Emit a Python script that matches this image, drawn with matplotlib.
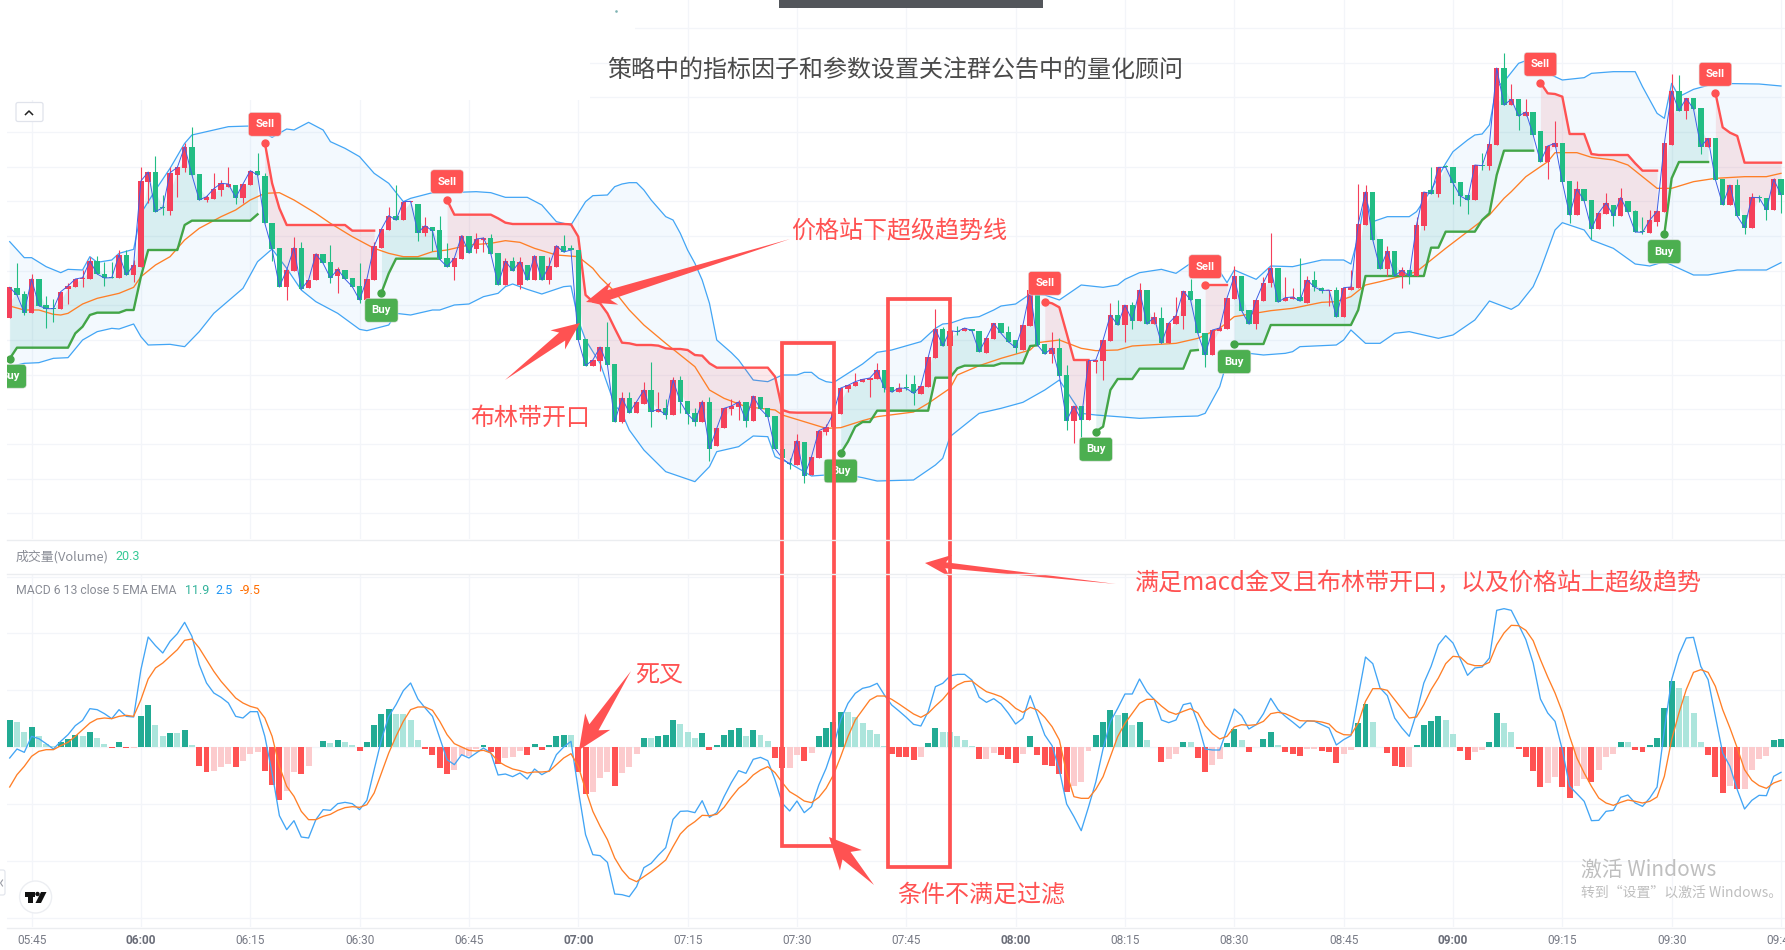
import numpy as np
import matplotlib
matplotlib.use("Agg")
import matplotlib.pyplot as plt
from matplotlib.patches import Polygon, Rectangle, FancyBboxPatch, Circle

cjk = ['Noto Sans CJK SC', 'DejaVu Sans']

# one minute bars, first one is 05:42
opens = [747,836,818,762,863,784,776,774,834,840,
         864,863,917,878,868,866,935,875,900,1154,
         1184,1079,1068,1175,1197,1260,1178,1100,1103,1130,
         1140,1145,1107,1145,1188,1173,1030,956,840,888,
         956,836,860,938,914,873,890,865,842,800,
         860,957,1010,1053,1040,1094,1088,1002,1019,1010,
         926,900,923,992,953,980,985,941,844,917,
         845,905,861,932,860,900,963,955,950,683,
         602,617,659,608,435,505,462,488,530,464,
         475,455,560,497,460,435,493,362,415,472,
         480,494,438,509,475,452,354,309,306,374,
         274,327,405,420,459,533,542,555,560,563,
         590,538,524,537,547,518,540,627,712,662,
         707,706,714,707,642,684,730,704,679,651,
         722,832,667,638,655,575,438,482,440,615,
         617,678,755,725,785,738,830,728,745,670,
         728,753,827,803,700,635,707,714,804,872,
         770,728,797,850,896,797,804,809,792,859,
         837,826,830,750,831,835,1025,1124,982,894,
         947,872,889,872,1022,1131,1118,1200,1198,1153,
         1114,1100,1205,1202,1264,1496,1385,1402,1352,1363,
         1306,1215,1260,1270,1156,1055,1133,1099,1013,1059,
         1084,1052,1096,1066,1005,1002,1035,1065,1265,1427,
         1368,1405,1375,1260,1285,1162,1086,1145,1054,1017,
         1110,1106,1070,1162]
closes = [838,815,762,863,783,774,774,825,842,863,
          867,917,878,866,867,936,875,905,1157,1184,
          1065,1077,1182,1198,1260,1175,1100,1110,1134,1150,
          1148,1107,1148,1188,1175,1030,952,840,890,957,
          832,860,938,910,866,892,863,840,800,863,
          962,1013,1053,1040,1095,1096,1002,1023,1007,922,
          900,926,993,941,983,986,939,846,917,888,
          915,860,933,860,902,963,944,950,680,603,
          620,659,606,435,506,462,495,530,465,472,
          455,560,495,458,435,495,354,415,475,482,
          494,438,512,473,450,354,325,307,378,272,
          330,408,418,460,536,544,555,562,566,590,
          535,524,536,535,520,542,628,713,662,708,
          705,716,708,645,686,730,700,675,657,725,
          830,665,638,656,573,438,482,440,618,620,
          680,755,725,785,738,830,728,748,670,730,
          753,827,800,700,635,710,716,806,872,768,
          728,800,852,896,794,807,809,797,860,839,
          828,830,750,837,839,1028,1124,980,894,947,
          872,889,872,1025,1124,1119,1198,1198,1151,1112,
          1100,1205,1203,1268,1496,1385,1402,1352,1364,1295,
          1215,1262,1270,1154,1055,1133,1097,1013,1062,1091,
          1052,1107,1064,1004,1003,1040,1066,1270,1427,1368,
          1405,1373,1260,1285,1161,1086,1145,1052,1017,1108,
          1107,1070,1162,1116]
highs = [838,911,827,877,863,812,802,825,850,863,
         890,930,932,915,915,950,950,920,1198,1184,
         1232,1115,1198,1198,1270,1320,1178,1115,1180,1160,
         1198,1145,1148,1188,1240,1180,1030,956,890,988,
         973,860,942,938,965,900,890,865,912,863,
         975,1013,1080,1145,1095,1096,1088,1050,1019,1052,
         970,926,995,992,1000,990,998,941,925,930,
         930,905,933,932,930,963,995,965,950,683,
         620,659,735,608,525,525,495,555,613,525,
         502,570,572,497,475,500,510,415,475,502,
         500,494,512,509,475,452,365,325,398,374,
         330,408,428,460,536,544,582,562,566,610,
         590,538,550,578,575,542,628,773,720,708,
         722,716,714,707,686,730,730,723,679,725,
         830,832,667,704,685,605,482,482,618,620,
         680,790,800,785,795,852,830,765,778,730,
         808,827,863,803,700,710,730,806,902,872,
         770,800,870,1002,896,868,835,925,872,887,
         840,830,840,837,890,1148,1144,1124,982,962,
         947,898,889,1050,1124,1200,1200,1206,1198,1153,
         1114,1205,1242,1275,1496,1540,1448,1402,1402,1363,
         1306,1262,1337,1270,1156,1156,1133,1099,1062,1120,
         1084,1135,1096,1070,1048,1070,1070,1270,1478,1475,
         1405,1405,1375,1285,1285,1162,1145,1162,1054,1120,
         1115,1106,1165,1162]
lows = [747,815,756,762,783,717,735,774,788,840,
        838,863,878,843,865,866,875,855,900,1090,
        1065,1055,1055,1110,1185,1175,1100,1095,1103,1112,
        1140,1088,1092,1145,1175,1030,917,840,800,888,
        832,836,860,910,852,820,863,840,790,800,
        860,957,1010,1040,1040,1094,978,992,947,922,
        900,860,923,941,942,945,939,846,844,888,
        832,860,861,860,848,900,944,950,680,603,
        602,588,606,435,430,462,462,488,418,464,
        442,455,460,428,422,435,318,362,415,455,
        440,418,438,473,450,354,310,294,306,252,
        274,327,395,420,459,525,542,555,510,563,
        525,524,524,530,485,518,540,627,662,662,
        695,706,708,645,642,684,700,675,640,651,
        722,665,638,612,573,410,372,380,440,582,
        560,678,725,675,712,738,728,728,670,670,
        728,714,800,700,600,635,707,714,804,768,
        728,714,797,840,794,797,804,797,792,828,
        820,782,750,750,831,835,1025,980,894,872,
        872,837,848,872,1010,1119,1110,1198,1088,1082,
        1058,1100,1190,1190,1264,1385,1385,1310,1352,1295,
        1215,1163,1260,1154,1032,1055,1097,984,1013,1059,
        1022,1052,1064,1004,998,1002,1022,1065,1265,1368,
        1344,1373,1238,1260,1161,1086,1086,1052,998,1017,
        1095,1040,1070,1062]

supertrend = [624,657,657,657,657,657,657,657,657,700,
              720,755,762,762,762,762,770,770,870,950,
              950,950,950,950,1025,1038,1038,1038,1038,1038,
              1038,1038,1038,1038,1057,1272,1150,1075,1025,1025,
              1025,1025,1025,1025,1025,1025,1025,1008,1008,1008,
              1008,822,880,924,924,924,924,924,924,924,
              1100,1056,1056,1056,1056,1056,1056,1045,1032,1028,
              1028,1028,1028,1028,1028,1028,1028,1027,990,815,
              795,790,760,715,672,670,665,665,665,663,
              655,653,653,650,635,633,610,597,597,597,
              597,597,597,597,597,570,470,463,462,462,
              462,462,462,462,340,375,420,434,434,468,
              468,468,468,468,468,468,468,567,567,567,
              595,603,603,603,603,603,610,610,610,610,
              662,664,795,790,778,700,620,620,620,405,
              420,530,563,563,563,594,594,594,594,594,
              594,594,648,650,845,845,845,845,668,668,
              668,668,668,725,725,725,725,725,725,725,
              725,725,725,725,725,770,872,872,872,872,
              872,872,872,872,872,957,957,1005,1005,1005,
              1005,1005,1040,1060,1175,1248,1248,1248,1248,1248,
              1452,1420,1418,1410,1298,1298,1298,1238,1235,1235,
              1235,1235,1235,1210,1188,1188,1188,998,1165,1214,
              1214,1214,1214,1214,1422,1318,1302,1292,1212,1212,
              1212,1212,1212,1212]
buy_bars = [0, 51, 114, 149, 168, 227]
sell_bars = [35, 60, 142, 164, 210, 234]

upper_bars = [0,2,3,5,7,8,10,11,12,14,15,17,18,19,20,22,24,25,28,30,33,35,36,38,39,41,43,44,46,48,50,52,54,55,58,60,64,66,68,71,73,75,77,79,80,82,83,
              84,85,86,87,88,90,91,92,93,94,95,96,97,99,100,101,102,104,105,106,108,109,110,111,112,113,115,117,119,121,125,126,127,128,129,131,133,135,136,138,140,142,144,147,150,152,153,155,158,160,161,
              162,163,165,167,168,171,173,176,180,183,184,185,186,187,189,192,193,195,197,198,200,201,202,203,204,205,207,208,210,213,216,217,220,223,224,226,227,228,229,231,234,240,243]
upper_vals = [975,927,927,900,882,892,890,930,913,920,940,952,1060,1095,1130,1195,1270,1295,1310,1320,1322,1300,1288,1313,1310,1333,1310,1275,1255,1230,1180,1150,1095,1105,1122,1122,1125,1122,1108,1108,1085,1035,1025,1095,1113,1115,1140,
              1148,1152,1152,1130,1100,1050,1040,1000,950,910,860,790,680,642,620,590,560,555,565,575,575,583,583,565,555,552,580,608,643,650,675,695,715,728,730,745,750,770,782,788,818,815,800,845,838,845,862,882,892,880,895,
              910,920,920,852,890,862,902,900,920,920,908,990,1110,1035,1050,1050,1065,1130,1210,1245,1280,1295,1298,1325,1440,1455,1510,1518,1490,1460,1467,1480,1485,1485,1440,1360,1345,1450,1410,1432,1450,1448,1442]

lower_bars = [0,2,4,6,8,10,12,14,15,17,18,19,22,24,26,28,32,34,36,38,40,42,45,48,49,52,53,55,58,59,61,63,65,67,68,69,71,73,76,77,78,79,81,83,
              84,85,87,90,92,94,96,97,100,102,104,105,107,110,112,115,117,119,124,127,128,129,133,136,139,142,144,147,149,155,160,163,
              164,166,167,168,172,175,176,177,182,183,184,186,188,190,192,196,198,201,203,206,207,209,210,212,213,216,217,220,223,225,227,231,233,237,241,243]
lower_vals = [600,610,612,625,627,680,705,715,713,728,690,665,667,660,705,760,835,915,953,895,830,795,760,712,708,725,760,755,770,770,785,788,810,820,840,848,832,818,840,842,740,680,610,485,
              460,410,350,285,270,255,300,345,360,392,390,330,310,272,275,275,267,257,260,305,325,390,460,475,493,530,560,460,455,445,450,452,
              460,540,615,645,635,640,645,660,665,680,710,670,670,700,705,685,695,740,797,772,785,840,890,1010,1032,1010,980,955,908,902,915,875,875,890,890,912]

mid_bars = [0,2,4,6,7,8,10,12,15,17,18,20,22,24,26,29,31,33,35,37,39,42,44,47,50,52,54,56,58,60,63,66,68,70,72,75,78,80,81,83,85,87,90,94,96,98,101,105,106,109,112,114,117,119,124,126,129,130,133,136,140,141,144,147,149,152,154,160,163,166,168,173,176,180,182,184,186,188,191,193,197,200,203,205,206,208,211,212,215,217,220,222,224,226,228,231,234,238,241,243]
mid_vals = [782,770,770,757,755,760,788,805,820,838,870,905,930,980,1015,1050,1070,1100,1120,1122,1100,1060,1030,990,955,940,930,930,945,950,965,970,978,973,955,935,930,895,868,825,770,725,670,600,530,505,480,470,455,435,415,417,438,450,464,490,535,575,603,625,650,672,680,655,648,650,662,670,685,715,750,768,775,793,795,810,845,855,872,885,955,1005,1055,1105,1125,1170,1215,1242,1242,1228,1220,1205,1170,1135,1135,1155,1165,1170,1170,1180]

hist = [82,76,44,61,32,10,2,16,25,35,
        32,46,28,10,-4,16,-4,-4,94,127,
        67,32,43,43,52,7,-56,-74,-71,-59,
        -50,-59,-43,-20,-14,-71,-113,-158,-133,-74,
        -80,-56,1,19,13,22,16,7,-11,16,
        67,100,115,100,100,82,22,-5,-23,-62,
        -80,-68,-28,-26,-5,7,-14,-50,-32,-29,
        -11,-23,10,-8,7,34,37,37,-76,-140,
        -134,-92,-74,-116,-77,-59,-21,27,27,33,
        36,81,69,45,27,42,-9,6,36,51,
        57,33,51,36,18,-33,-63,-63,-24,-42,
        -18,33,57,75,105,105,90,72,51,39,
        3,-21,-30,-31,-39,-30,12,57,45,45,
        33,21,3,-36,-36,-18,-24,-36,-48,-21,
        33,-24,-54,-57,-81,-135,-117,-105,-12,36,
        75,111,96,102,66,75,21,0,-45,-36,
        -21,16,16,-32,-74,-53,-35,13,55,22,
        -14,1,25,46,7,-14,-20,-26,-5,-5,
        -11,-14,-47,-20,-8,73,130,76,1,-17,
        -56,-59,-59,7,67,79,94,82,40,-11,
        -38,-14,-8,16,103,73,46,-5,-29,-71,
        -119,-107,-89,-119,-152,-116,-95,-104,-68,-29,
        -20,16,16,-8,-14,7,28,118,199,178,
        154,103,16,-23,-89,-137,-116,-125,-125,-68,
        -35,-26,22,25]
macd = [-33,-6,-16,32,25,10,-6,17,37,64,
        80,115,112,100,85,112,92,90,232,330,
        304,282,317,340,374,332,247,192,162,149,
        132,92,87,106,106,32,-78,-206,-248,-221,
        -270,-273,-218,-188,-190,-170,-166,-170,-188,-160,
        -68,22,92,127,169,192,144,117,92,27,
        -38,-53,-23,-33,-18,-3,-18,-84,-81,-89,
        -78,-96,-66,-83,-71,-23,0,17,-128,-263,
        -323,-326,-346,-441,-443,-449,-419,-362,-349,-324,
        -302,-217,-193,-192,-197,-161,-211,-197,-149,-107,
        -71,-79,-37,-31,-41,-99,-169,-192,-162,-197,
        -179,-114,-64,1,81,131,161,176,181,191,
        156,126,108,89,68,63,106,181,191,213,
        218,218,201,149,134,145,129,101,69,86,
        154,96,36,4,-69,-171,-209,-251,-180,-105,
        -5,76,116,159,159,204,166,143,81,73,
        81,127,132,72,-6,-9,-9,52,114,94,
        54,67,100,146,112,92,75,57,79,77,
        67,57,6,22,34,152,270,250,177,154,
        87,57,32,102,192,242,307,334,312,264,
        215,237,240,267,410,415,410,367,322,252,
        144,102,77,-8,-118,-140,-163,-221,-220,-193,
        -190,-151,-144,-168,-178,-153,-120,52,202,277,
        327,329,242,202,92,-18,-58,-128,-186,-160,
        -145,-146,-88,-76]
signal = [-120,-83,-58,-28,-13,-8,-8,4,14,32,
          52,72,84,87,85,92,95,92,142,204,
          237,252,272,292,320,324,297,262,227,197,
          172,147,132,122,116,87,32,-58,-118,-148,
          -193,-218,-218,-208,-202,-190,-182,-179,-181,-173,
          -138,-78,-18,32,77,112,120,120,110,77,
          37,10,0,-10,-12,-10,-18,-43,-56,-66,
          -71,-78,-75,-75,-73,-53,-33,-20,-58,-128,
          -193,-238,-278,-333,-369,-394,-404,-389,-374,-357,
          -339,-299,-261,-239,-224,-205,-206,-202,-181,-151,
          -124,-107,-84,-69,-59,-77,-107,-134,-147,-162,
          -167,-151,-124,-84,-29,31,81,111,141,153,
          153,143,129,114,99,89,101,123,143,169,
          186,196,198,181,166,159,151,136,116,104,
          119,111,89,61,21,-79,-149,-154,-154,-127,
          -89,-29,31,71,101,131,143,143,123,106,
          98,107,115,102,64,40,24,32,60,67,
          65,67,77,100,104,100,90,79,78,78,
          75,69,47,37,36,72,137,175,175,170,
          142,114,87,90,127,172,207,250,272,270,
          250,244,244,254,307,342,365,364,350,319,
          262,210,162,105,32,-33,-78,-118,-153,-168,
          -175,-166,-159,-163,-168,-163,-150,-88,22,102,
          172,224,232,224,182,112,57,-3,-68,-100,
          -116,-124,-108,-100]

tick_bars = list(range(3, 244, 15))
tick_labels = ['05:45','06:00','06:15','06:30','06:45','07:00','07:15','07:30','07:45',
               '08:00','08:15','08:30','08:45','09:00','09:15','09:30','09:45']

up_color, down_color = '#f5405a', '#22bd84'
band_color, mid_color = '#42a5f5', '#ff7f27'
grid_color = '#f3f5f9'
mark_red = '#ff5252'

opens, closes, highs, lows = map(np.array, (opens, closes, highs, lows))
supertrend = np.array(supertrend, dtype=float)
hist = np.array(hist)
bars = np.arange(len(closes))

W, H = 1785, 950
fig = plt.figure(figsize=(W / 100, H / 100), dpi=100, facecolor='white')
left, width = 7 / W, (W - 7) / W
ax = fig.add_axes([left, (H - 539) / H, width, 539 / H])
ax2 = fig.add_axes([left, (H - 927) / H, width, (927 - 574) / H])
for a in (ax, ax2):
    a.set_xlim(-0.37, 243.55)
    a.set_xticks(tick_bars)
    a.grid(True, color=grid_color, lw=0.9)
    a.set_axisbelow(True)
    a.tick_params(length=0)
    for s in a.spines.values():
        s.set_visible(False)

# price pane
ax.set_ylim(83, 1700)
ax.set_yticks(np.arange(160, 1700, 104))
ax.set_yticklabels([])
ax.set_xticklabels([])

ax.fill(np.r_[upper_bars, lower_bars[::-1]], np.r_[upper_vals, lower_vals[::-1]],
        color='#2196f3', alpha=0.05, lw=0, zorder=1)
ax.plot(upper_bars, upper_vals, color=band_color, lw=0.9, zorder=2)
ax.plot(lower_bars, lower_vals, color=band_color, lw=0.9, zorder=2)

body_mid = (opens + closes) / 2
starts = sorted(buy_bars + sell_bars) + [len(bars)]
for k in range(len(starts) - 1):
    seg = np.arange(starts[k], starts[k + 1])
    is_buy = starts[k] in buy_bars
    col = '#43a547' if is_buy else mark_red
    fill = '#009688' if is_buy else '#f23645'
    ax.fill_between(seg, supertrend[seg], body_mid[seg], color=fill, alpha=0.11, lw=0, zorder=2)
    ax.plot(seg, supertrend[seg], color=col, lw=1.7, zorder=4)
    ax.plot(seg[0], supertrend[seg[0]], 'o', color=col, ms=5, zorder=4)

ax.plot(mid_bars, mid_vals, color=mid_color, lw=0.95, zorder=3)

is_up = closes >= opens
cols = np.where(is_up, up_color, down_color)
ax.vlines(bars, lows, highs, colors=cols, lw=0.8, zorder=5)
ax.bar(bars, np.maximum(np.abs(closes - opens), 3), bottom=np.minimum(opens, closes),
       width=0.74, color=cols, lw=0, zorder=5)
ax.plot(bars, closes, color='#3f5fe6', lw=0.7, zorder=6)

for name, idx, off, col in [('Buy', buy_bars, -12.7, '#4caf50'), ('Sell', sell_bars, 13.2, mark_red)]:
    for b in idx:
        ax.annotate(name, xy=(b, supertrend[b]), xytext=(0, off), textcoords='offset points',
                    ha='center', va='center', color='white', fontsize=8.2, fontweight='bold',
                    family='Roboto', zorder=8, clip_on=True,
                    bbox=dict(boxstyle='round,pad=0.6,rounding_size=0.3', fc=col, ec='#dddddd', lw=0.4))

# macd pane
ax2.set_ylim(-540, 519)
ax2.set_yticks([-513, -342, -171, 0, 171, 342, 510])
ax2.set_yticklabels([])
hist_cols = []
for k, v in enumerate(hist):
    prev = hist[k - 1] if k else 0
    if v >= 0:
        hist_cols.append('#22ab94' if v > prev else '#ace5dc')
    else:
        hist_cols.append('#ff5252' if v < prev else '#fccbcd')
ax2.bar(bars, hist, width=0.82, color=hist_cols, lw=0, zorder=2)
ax2.plot(bars, macd, color=band_color, lw=0.95, zorder=3)
ax2.plot(bars, signal, color=mid_color, lw=0.95, zorder=3)
ax2.set_xticklabels(tick_labels, family='Roboto', fontsize=8.6, color='#787b86')
for lab, txt in zip(ax2.get_xticklabels(), tick_labels):
    if txt.endswith(':00'):
        lab.set_fontweight('bold')
        lab.set_color('#6a6d78')
ax2.tick_params(axis='x', pad=5)

# overlay in picture pixels for the hand drawn marks and page furniture
ov = fig.add_axes([0, 0, 1, 1], zorder=10)
ov.set_xlim(0, W)
ov.set_ylim(H, 0)
ov.axis('off')
ov.patch.set_alpha(0)

# pasted white area over the top left of the grid
ov.add_patch(Rectangle((0, 0), 590, 100, color='white', lw=0))
ov.add_patch(Rectangle((590, 0), 45, 40, color='white', lw=0))
ov.plot([616], [11], 's', ms=0.8, color='#7fb3b3')

ov.add_patch(Rectangle((779, 0), 264, 8, color='#53565b', lw=0))
for y in (539.5, 573.5, 927.5):
    ov.plot([7, W], [y, y], color='#ebedf0', lw=1)

ov.add_patch(FancyBboxPatch((16, 102.5), 27, 19, boxstyle='round,pad=0,rounding_size=2',
                            fc='white', ec='#e0e3eb', lw=0.9))
ov.plot([25.5, 29, 32.5], [114.5, 111, 114.5], color='#222222', lw=1.1)
ov.add_patch(FancyBboxPatch((-4, 870), 9, 25, boxstyle='round,pad=0,rounding_size=2',
                            fc='white', ec='#e0e3eb', lw=0.8))
ov.plot([2.5, 0.5, 2.5], [880, 883, 886], color='#9a9da6', lw=0.8)

# tradingview badge
ov.add_patch(Circle((35.6, 897), 16, fc='white', ec='#eceef2', lw=1))
ov.add_patch(Polygon([(24.5, 892), (35, 892), (35, 896.5), (32.5, 896.5), (32.5, 903), (28, 903), (28, 896.5), (24.5, 896.5)], color='#111111', lw=0))
ov.add_patch(Circle((37.5, 894), 2.2, color='#111111', lw=0))
ov.add_patch(Polygon([(41, 892), (46.5, 892), (41, 903), (35.5, 903)], color='#111111', lw=0))

ov.text(607, 69.5, '策略中的指标因子和参数设置关注群公告中的量化顾问', family=cjk, fontsize=17.3, color='#4a4a4a', va='center')

ov.text(16, 557, '成交量(Volume)', family=cjk, fontsize=9.3, color='#8a8d96', va='center')
ov.text(115.5, 557, '20.3', family='Roboto', fontsize=9, color='#34c995', va='center')
ov.text(16, 590.5, 'MACD 6 13 close 5 EMA EMA', family='Roboto', fontsize=8.85, color='#8a8d96', va='center')
ov.text(185, 590.5, '11.9', family='Roboto', fontsize=9, color='#33b39b', va='center')
ov.text(215.5, 590.5, '2.5', family='Roboto', fontsize=9, color='#2196f3', va='center')
ov.text(240, 590.5, '-9.5', family='Roboto', fontsize=9, color='#ff6d00', va='center')

ov.text(1581, 870, '激活 Windows', family=cjk, fontsize=15, color='#bfbfbf', va='center')
ov.text(1581, 893, '转到“设置”以激活 Windows。', family=cjk, fontsize=10, color='#bfbfbf', va='center')

notes = [(791, 231, '价格站下超级趋势线'),
         (470, 418, '布林带开口'),
         (635, 675, '死叉'),
         (1135, 583, '满足macd金叉且布林带开口，以及价格站上超级趋势'),
         (897, 894, '条件不满足过滤')]
for x, y, s in notes:
    ov.text(x, y, s, family=cjk, fontsize=17.3, color=mark_red, va='center')

for x0, x1, y0, y1 in [(782, 834, 343, 846), (888, 950, 299, 867)]:
    ov.add_patch(Rectangle((x0, y0), x1 - x0, y1 - y0, fc='none', ec=mark_red, lw=2.7))


def arrow(tail, tip, head_len, head_w, neck_w):
    tail, tip = np.array(tail, float), np.array(tip, float)
    d = (tip - tail) / np.hypot(*(tip - tail))
    n = np.array([-d[1], d[0]])
    back = tip - d * head_len
    neck = tip - d * head_len * 0.8
    pts = [tail, neck + n * neck_w / 2, back + n * head_w / 2, tip,
           back - n * head_w / 2, neck - n * neck_w / 2]
    ov.add_patch(Polygon(pts, closed=True, color=mark_red, lw=0))


arrow((790, 239), (586, 302), 30, 24, 10)
arrow((505, 380), (580, 323), 28, 24, 10)
arrow((1116, 584), (925, 563), 26, 22, 6)
arrow((631, 671), (579, 750), 34, 30, 11)
arrow((874, 885), (829, 837), 32, 30, 11)

fig.savefig('out.png', dpi=100, facecolor='white')
